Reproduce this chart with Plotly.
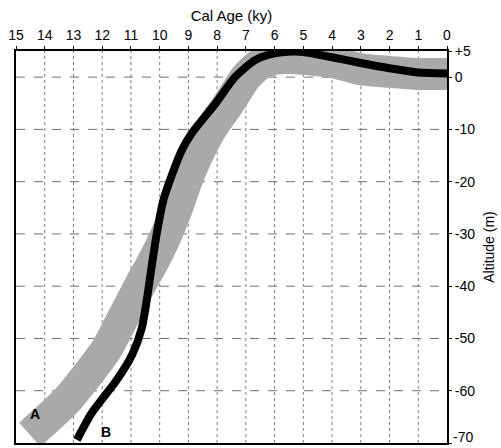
import plotly.graph_objects as go

# Band A (gray) centerline: age (ky), altitude (m)
a_age = [14.52, 13.23, 11.87, 11.44, 10.75, 10.2, 9.76, 9.38, 9.08, 8.66, 8.22, 7.59, 7.0, 6.5, 6.0, 5.3, 4.0, 3.0, 2.0, 1.0, 0.0, -0.5]
a_alt = [-68.4, -61.8, -52.2, -47.8, -40.5, -35, -30, -24.8, -20, -14.6, -10, -5, 0, 2.5, 3.5, 3.6, 2.9, 1.5, 1.0, 0.6, 0.6, 0.6]

# Curve B (black)
b_age = [12.88, 12.37, 11.50, 10.95, 10.62, 10.45, 10.28, 10.10, 9.87, 9.56, 9.23, 8.89, 8.05, 7.38,
         6.68, 6.05, 5.33, 5.0, 4.0, 3.0, 2.0, 1.0, 0.0, -0.3]
b_alt = [-69.4, -64.3, -58.0, -53.0, -48.0, -42.7, -36.3, -29.9, -23.5, -18.5, -14.0, -10.8, -5.0, 0.0,
         3.25, 4.5, 4.9, 4.8, 3.8, 2.7, 1.7, 0.9, 0.7, 0.7]

x_ticks = list(range(15, -1, -1))
y_ticks = [5, 0, -10, -20, -30, -40, -50, -60, -70]
y_ticktext = ["+5", "0", "-10", "-20", "-30", "-40", "-50", "-60", ""]
bottom_label = "-70"
grid_y = [0, -10, -20, -30, -40, -50, -60]

FONT = "Arial, Liberation Sans, Helvetica, sans-serif"

fig = go.Figure()
fig.add_trace(go.Scatter(x=a_age, y=a_alt, mode="lines",
                         line=dict(color="#a9a9a9", width=32, shape="spline", smoothing=0.6),
                         hoverinfo="skip", showlegend=False))
fig.add_trace(go.Scatter(x=b_age, y=b_alt, mode="lines",
                         line=dict(color="#000000", width=8, shape="spline", smoothing=0.7),
                         hoverinfo="skip", showlegend=False))

# horizontal dashed gridlines
for gy in grid_y:
    fig.add_shape(type="line", xref="x", yref="y", x0=15, x1=0, y0=gy, y1=gy,
                  line=dict(color="#6f6f6f", width=1, dash="dash"), layer="below")
# vertical dotted gridlines
for gx in range(14, 0, -1):
    fig.add_shape(type="line", xref="x", yref="y", x0=gx, x1=gx, y0=-70, y1=5,
                  line=dict(color="#7f7f7f", width=1, dash="dot"), layer="below")

fig.add_annotation(x=14.34, y=-64.5, text="<b>A</b>", showarrow=False,
                   font=dict(family=FONT, size=14, color="black"))
fig.add_annotation(x=11.87, y=-67.9, text="<b>B</b>", showarrow=False,
                   font=dict(family=FONT, size=14, color="black"))
# bottom tick label, nudged up so it stays inside the page
fig.add_annotation(xref="paper", yref="y", x=1, y=-70, text=bottom_label, showarrow=False,
                   xanchor="left", yanchor="bottom", xshift=4, yshift=-4,
                   font=dict(family=FONT, size=14, color="black"))

fig.update_layout(
    width=501, height=448,
    margin=dict(l=16, r=54, t=51, b=5),
    paper_bgcolor="white", plot_bgcolor="white",
    font=dict(family=FONT, size=14, color="black"),
    xaxis=dict(range=[15, 0], side="top", tickvals=x_ticks, showgrid=False, zeroline=False,
               automargin=False,
               showline=True, linecolor="black", linewidth=2, mirror=True,
               ticks="outside", ticklen=3, tickcolor="black", ticklabeloverflow="allow",
               title=dict(text="Cal Age (ky)", standoff=2, font=dict(size=15))),
    yaxis=dict(range=[-70, 5], side="right", tickvals=y_ticks, ticktext=y_ticktext,
               showgrid=False, zeroline=False, automargin=False,
               showline=True, linecolor="black", linewidth=2, mirror=True,
               ticks="outside", ticklen=3, tickcolor="black", ticklabeloverflow="allow",
               title=dict(text="Altitude (m)", standoff=10, font=dict(size=14))),
)
fig.write_html("out.html")
